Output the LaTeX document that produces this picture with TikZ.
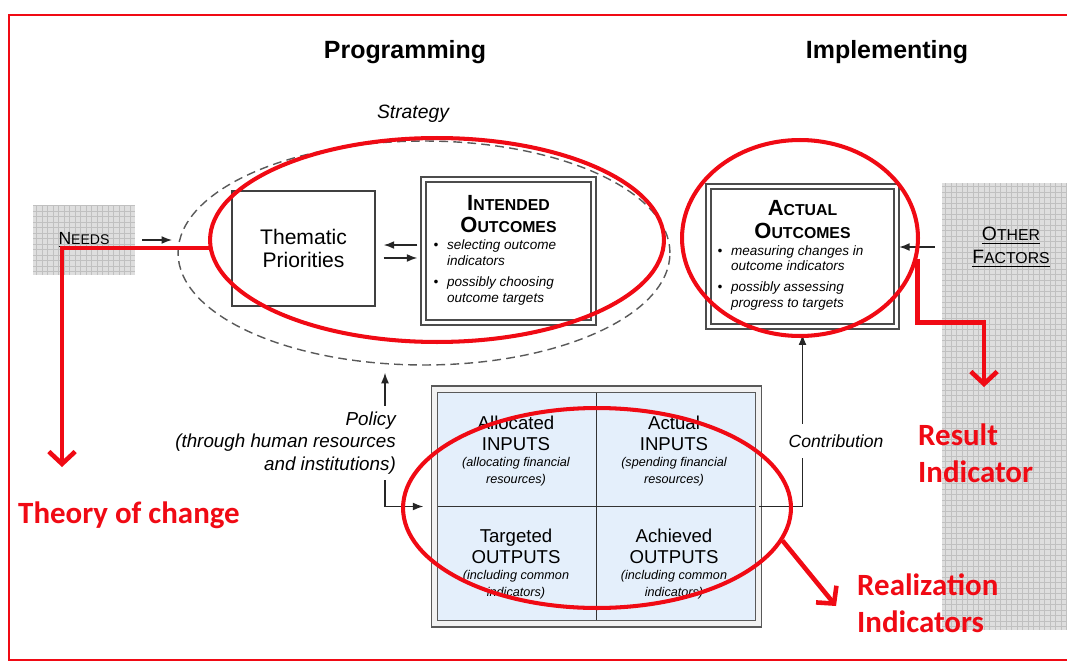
\documentclass[tikz,border=0pt]{standalone}
\usepackage{fontspec}
\setmainfont{Liberation Sans}
\newfontfamily\calib{Carlito}
\usetikzlibrary{shapes.geometric,arrows.meta,positioning}

\definecolor{hilite}{RGB}{240,10,20}
\definecolor{cellblue}{RGB}{228,239,251}
\definecolor{patgray}{RGB}{222,222,222}
\definecolor{patline}{RGB}{192,192,192}

\newcommand{\sm}[1]{{\fontsize{9}{13}\selectfont #1}}
\newcommand{\smm}[1]{{\fontsize{8}{13}\selectfont #1}}
\newcommand{\titlefont}{\fontsize{12.5}{13}\selectfont\bfseries}
\newcommand{\bulletfont}{\fontsize{7.7}{9}\selectfont\mdseries\itshape}
\newcommand{\cellhead}{\fontsize{10.6}{12}\selectfont}
\newcommand{\cellnote}{\fontsize{7.2}{9.6}\selectfont\itshape}

\begin{document}
\begin{tikzpicture}[x=0.02cm, y=-0.02cm,
    arr/.style={draw=black!85, line width=0.8pt, -{Latex[length=6pt,width=4.5pt]}},
    redarr/.style={draw=hilite, line width=2.6pt, -{Straight Barb[length=7pt,width=15pt]}},
    ring/.style={ellipse, draw=hilite, line width=2.3pt, inner sep=0pt},
    hatched/.style={fill=patgray, inner sep=0pt, path picture={
        \draw[patline, line width=0.35pt, step=0.11cm]
          (path picture bounding box.south west) grid (path picture bounding box.north east);}},
    outbox/.style={draw=black!70, line width=1pt, double=white, double distance=1.8pt, inner sep=0pt},
    cell/.style={align=flush center, text width=3cm, inner sep=0pt},
    redtext/.style={text=hilite, align=left, font=\calib\bfseries\fontsize{17.6}{21}\selectfont}]

    \useasboundingbox (0,0) rectangle (1067,662);
    \draw[hilite, line width=1.2pt] (9,15) rectangle (1090,660);

    \node[font=\bfseries\fontsize{14.2}{16}\selectfont] (prog) at (405,52) {Programming};
    \node[font=\bfseries\fontsize{14.2}{16}\selectfont] (impl) at (887,52) {Implementing};
    \node[font=\itshape\fontsize{11}{13}\selectfont] (strategy) at (413,114) {Strategy};

    \node[hatched, minimum width=2.04cm, minimum height=1.4cm] (needs) at (84,240)
        {\fontsize{10}{12}\selectfont\underline{N\smm{EEDS}}};
    \node[hatched, minimum width=2.56cm, minimum height=8.94cm] (other) at (1006,406.5) {};
    \node[align=center, font=\fontsize{11}{13}\selectfont] (othertxt) at (1011,247)
        {\underline{O\sm{THER}}\\\underline{F\sm{ACTORS}}};

    \node[ellipse, draw=black!65, line width=0.8pt, dash pattern=on 5pt off 3pt,
        minimum width=9.84cm, minimum height=4.48cm, inner sep=0pt] (strat) at (424,253) {};

    \node[draw=black!75, line width=0.9pt, minimum width=2.86cm, minimum height=2.3cm,
        align=center, font=\fontsize{12}{13.6}\selectfont] (thematic) at (303.5,248.5) {Thematic\\Priorities};

    \node[outbox, minimum width=3.4cm, minimum height=2.85cm] (intended) at (508.5,251) {%
        \begin{minipage}{3cm}\centering
        \titlefont I\sm{NTENDED}\\O\sm{UTCOMES}\par\vspace{2pt}\raggedright\bulletfont
        \begin{tabular}{@{}l@{\hspace{5pt}}l@{}}
        \textbullet & selecting outcome\\ & indicators\\[3pt]
        \textbullet & possibly choosing\\ & outcome targets
        \end{tabular}\end{minipage}};

    \node[outbox, minimum width=3.76cm, minimum height=2.8cm] (actual) at (802.5,256.5) {%
        \begin{minipage}{3.4cm}\centering
        \titlefont A\sm{CTUAL}\\O\sm{UTCOMES}\par\vspace{2pt}\raggedright\bulletfont
        \begin{tabular}{@{}l@{\hspace{5pt}}l@{}}
        \textbullet & measuring changes in\\ & outcome indicators\\[3pt]
        \textbullet & possibly assessing\\ & progress to targets
        \end{tabular}\end{minipage}};

    % inputs and outputs
    \node[draw=black!65, line width=0.7pt, double=gray!10, double distance=3pt, fill=cellblue,
        minimum width=6.48cm, minimum height=4.69cm, inner sep=0pt] (grid) at (596.5,506.5) {};
    \draw[black!80, line width=0.7pt, shorten <=2.2pt, shorten >=2.2pt] (grid.north) -- (grid.south);
    \draw[black!80, line width=0.7pt, shorten <=2.2pt, shorten >=2.2pt] (grid.west) -- (grid.east);

    \node[cell] (allocin) at (516,451) {{\cellhead Allocated\\INPUTS\par}{\cellnote (allocating financial\\resources)\par}};
    \node[cell] (actualin) at (674,451) {{\cellhead Actual\\INPUTS\par}{\cellnote (spending financial\\resources)\par}};
    \node[cell] (targetout) at (516,564) {{\cellhead Targeted\\OUTPUTS\par}{\cellnote (including common\\indicators)\par}};
    \node[cell] (achievedout) at (674,564) {{\cellhead Achieved\\OUTPUTS\par}{\cellnote (including common\\indicators)\par}};

    \draw[arr, shorten <=4pt, shorten >=3pt] (needs.east) -- (needs.east -| strat.west);
    \draw[arr, shorten <=3pt, shorten >=4.5pt] ([yshift=3.4pt]intended.west) -- ([yshift=3.4pt]intended.west -| thematic.east);
    \draw[arr, shorten <=4.5pt, shorten >=3pt] ([yshift=-5.4pt]thematic.east) -- ([yshift=-5.4pt]thematic.east -| intended.west);
    \draw[arr, shorten <=4pt, shorten >=1pt] (other.west |- othertxt) -- (actual.east |- othertxt);

    \node[font=\itshape\fontsize{10.7}{12.8}\selectfont, align=right, anchor=east] (policy) at (402,443)
        {Policy\\(through human resources\\and institutions)};
    \coordinate (polx) at (385,443);
    \draw[arr, shorten >=4pt] (policy.north -| polx) -- (strat.south -| polx);
    \draw[arr, shorten >=6pt] (policy.south -| polx) |- (grid.west);

    \draw[arr, shorten >=4pt] (grid.east) -| (actual.south);
    \node[fill=white, font=\itshape\fontsize{10}{12}\selectfont, inner ysep=6pt] (contrib) at (836,441) {Contribution};

    % red marks
    \node[ring, minimum width=9.08cm, minimum height=4.08cm] (ring1) at (437,240) {};
    \node[ring, minimum width=4.72cm, minimum height=3.92cm] (ring2) at (800,238) {};
    \node[ring, minimum width=7.76cm, minimum height=4cm] (ring3) at (597,508) {};

    \coordinate (tocend) at (62,467);
    \coordinate (resend) at (984,387);
    \coordinate (realend) at (836,606);
    \draw[redarr] (ring1.182) -| (tocend);
    \draw[redarr] (ring2.350) -- ++(0,64) -| (resend);
    \draw[redarr] (ring3.350) -- (realend);

    \node[redtext, anchor=west] (toc) at (12,515) {Theory of change};
    \node[redtext, anchor=west] (result) at (912,453) {Result\\Indicator};
    \node[redtext, anchor=west] (realiz) at (851,603) {Realization\\Indicators};
\end{tikzpicture}
\end{document}
